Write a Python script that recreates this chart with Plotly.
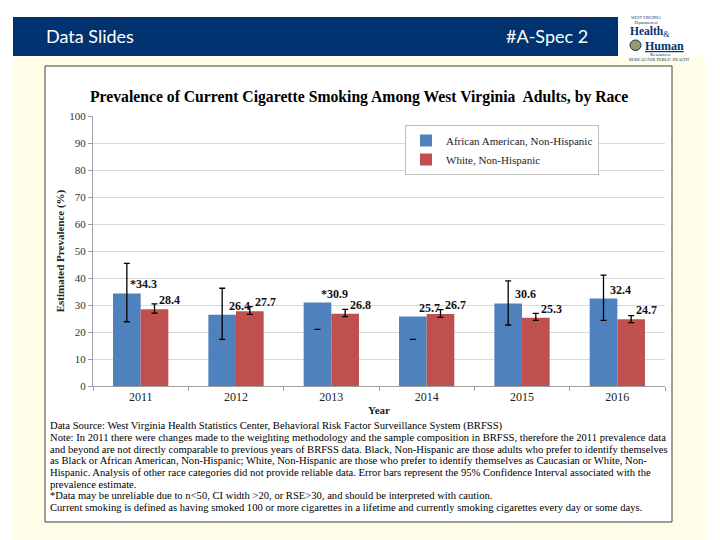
import plotly.graph_objects as go

# ---------------- data ----------------
years = ["2011", "2012", "2013", "2014", "2015", "2016"]
african_american = [34.3, 26.4, 30.9, 25.7, 30.6, 32.4]
aa_unreliable = [True, False, True, False, False, False]
aa_ci_low = [23.8, 17.3, 21.0, 17.3, 22.6, 24.3]
aa_ci_high = [45.4, 36.2, None, None, 38.9, 41.1]

white = [28.4, 27.7, 26.8, 26.7, 25.3, 24.7]
white_ci_low = [27.0, 26.5, 25.7, 25.4, 24.3, 23.5]
white_ci_high = [30.4, 29.4, 28.4, 28.3, 26.9, 26.1]

y_ticks = list(range(0, 101, 10))

title_text = "Prevalence of Current Cigarette Smoking Among West Virginia  Adults, by Race"
series_names = ["African American, Non-Hispanic", "White, Non-Hispanic"]
notes = [
    "Data Source: West Virginia Health Statistics Center, Behavioral Risk Factor Surveillance System (BRFSS)",
    "Note: In 2011 there were changes made to the weighting methodology and the sample composition in BRFSS, therefore the 2011 prevalence data",
    "and beyond are not directly comparable to previous years of BRFSS data. Black, Non-Hispanic are those adults who prefer to identify themselves",
    "as Black or African American, Non-Hispanic; White, Non-Hispanic are those who prefer to identify themselves as Caucasian or White, Non-",
    "Hispanic. Analysis of other race categories did not provide reliable data. Error bars represent the 95% Confidence Interval associated with the",
    "prevalence estimate.",
    "*Data may be unreliable due to n<50, CI width >20, or RSE>30, and should be interpreted with caution.",
    "Current smoking is defined as having smoked 100 or more cigarettes in a lifetime and currently smoking cigarettes every day or some days.",
]

# ---------------- layout geometry ----------------
W, H = 720, 540
L, R, T, B = 93, 665, 116, 386


def px(x):
    return (x - L) / (R - L)


def py(y):
    return (B - y) / (B - T)


BLUE = "#4F81BD"
RED = "#C0504D"
NAVY = "#00336f"
SERIF = "Liberation Serif"

fig = go.Figure()

fig.add_trace(go.Bar(
    x=years, y=african_american, name=series_names[0], offsetgroup="aa",
    marker=dict(color=BLUE, line=dict(width=0)), hoverinfo="x+y",
))
fig.add_trace(go.Bar(
    x=years, y=white, name=series_names[1], offsetgroup="w",
    marker=dict(color=RED, line=dict(width=0)),
    error_y=dict(type="data", symmetric=False,
                 array=[h - v for h, v in zip(white_ci_high, white)],
                 arrayminus=[v - l for v, l in zip(white, white_ci_low)],
                 color="black", thickness=1.3, width=3),
))
# error bars of the African American series (full intervals)
aa_full_y = [v if h is not None else None for v, h in zip(african_american, aa_ci_high)]
fig.add_trace(go.Bar(
    x=years, y=aa_full_y, offsetgroup="aa", showlegend=False, hoverinfo="skip",
    marker=dict(color="rgba(0,0,0,0)", line=dict(width=0)),
    error_y=dict(type="data", symmetric=False,
                 array=[(h - v) if h is not None else 0 for v, h in zip(african_american, aa_ci_high)],
                 arrayminus=[(v - l) if h is not None else 0 for v, l, h in zip(african_american, aa_ci_low, aa_ci_high)],
                 color="black", thickness=1.3, width=3),
))
# only the lower end is visible where the interval is incomplete
aa_dash_y = [l if h is None else None for l, h in zip(aa_ci_low, aa_ci_high)]
fig.add_trace(go.Bar(
    x=years, y=aa_dash_y, offsetgroup="aa", showlegend=False, hoverinfo="skip",
    marker=dict(color="rgba(0,0,0,0)", line=dict(width=0)),
    error_y=dict(type="data", array=[0] * len(years), color="black", thickness=1.3, width=3),
))

annotations = []
# data labels (x given as category index)
for i, (v, flag) in enumerate(zip(african_american, aa_unreliable)):
    annotations.append(dict(x=i, y=v, xref="x", yref="y", text="<b>" + ("*" if flag else "") + f"{v}</b>",
                            showarrow=False, xshift=3, yshift=9, yanchor="middle",
                            font=dict(family=SERIF, size=12, color="#111")))
for i, v in enumerate(white):
    annotations.append(dict(x=i, y=v, xref="x", yref="y", text=f"<b>{v}</b>",
                            showarrow=False, xshift=29, yshift=9, yanchor="middle",
                            font=dict(family=SERIF, size=12, color="#111")))

# title
annotations.append(dict(x=px(359), y=py(97), xref="paper", yref="paper", text=f"<b>{title_text}</b>",
                        showarrow=False, xanchor="center", yanchor="middle",
                        font=dict(family=SERIF, size=15.7, color="black")))
# notes
for i, line in enumerate(notes):
    annotations.append(dict(x=px(48), y=py(426 + i * 11.6), xref="paper", yref="paper", text=line,
                            showarrow=False, xanchor="left", yanchor="middle",
                            font=dict(family=SERIF, size=10.6, color="black")))

# header texts
annotations.append(dict(x=px(44), y=py(36), xref="paper", yref="paper", text="Data Slides",
                        showarrow=False, xanchor="left", yanchor="middle",
                        font=dict(family="Lato", size=18, color="white")))
annotations.append(dict(x=px(590), y=py(36), xref="paper", yref="paper", text="#A-Spec 2",
                        showarrow=False, xanchor="right", yanchor="middle",
                        font=dict(family="Lato", size=18, color="white")))
# logo texts
logo_items = [
    ("WEST VIRGINIA<br>Department of", 629, 20, 4),
    ("<b>Health</b><sub>&</sub>", 628, 32.5, 11.5),
    ("<b><u>Human</u></b>", 643, 46, 12),
    ("Resources", 648, 54.5, 5),
    ("BUREAU FOR PUBLIC HEALTH", 627, 59.5, 4.2),
]
for txt, x0, y0, sz in logo_items:
    annotations.append(dict(x=px(x0), y=py(y0), xref="paper", yref="paper", text=txt,
                            showarrow=False, xanchor="left", yanchor="middle",
                            font=dict(family=SERIF, size=sz, color=NAVY)))

shapes = [
    dict(type="rect", xref="paper", yref="paper", x0=px(13), x1=px(705), y0=py(56), y1=py(540),
         fillcolor="#fffde8", line=dict(width=0), layer="below"),
    dict(type="rect", xref="paper", yref="paper", x0=px(13), x1=px(618), y0=py(17), y1=py(56),
         fillcolor=NAVY, line=dict(width=0), layer="below"),
    dict(type="rect", xref="paper", yref="paper", x0=px(45), x1=px(672), y0=py(66), y1=py(522),
         fillcolor="white", line=dict(color="#404040", width=1), layer="below"),
    dict(type="circle", xref="paper", yref="paper", x0=px(630), x1=px(641), y0=py(40), y1=py(50.5),
         fillcolor="#9a9a62", line=dict(color=NAVY, width=1), layer="below"),
]

fig.update_layout(
    width=W, height=H,
    margin=dict(l=L, r=W - R, t=T, b=H - B, pad=0),
    paper_bgcolor="white", plot_bgcolor="white",
    barmode="group", bargap=0.42, bargroupgap=0,
    font=dict(family=SERIF, size=11, color="#333"),
    showlegend=True,
    legend=dict(x=px(405), y=py(125), xanchor="left", yanchor="top",
                bgcolor="white", bordercolor="#bfbfbf", borderwidth=1,
                font=dict(family=SERIF, size=11, color="#222"),
                itemwidth=30, tracegroupgap=0),
    xaxis=dict(type="category", categoryorder="array", categoryarray=years,
               range=[-0.5, len(years) - 0.5], autorange=False,
               showline=True, linecolor="#a0a0a0", linewidth=1,
               ticks="outside", ticklen=4, tickcolor="#a0a0a0", tickson="boundaries",
               showgrid=False, tickangle=0, tickfont=dict(family=SERIF, size=12, color="#222"),
               title=dict(text="<b>Year</b>", standoff=2, font=dict(family=SERIF, size=11, color="#222"))),
    yaxis=dict(range=[0, 100], tickvals=y_ticks, showline=True, linecolor="#a0a0a0", linewidth=1,
               ticks="outside", ticklen=4, tickcolor="#a0a0a0",
               gridcolor="#d9d9d9", gridwidth=1, zeroline=False,
               tickfont=dict(family=SERIF, size=11, color="#333"),
               title=dict(text="<b>Estimated Prevalence (%)</b>", standoff=2,
                          font=dict(family=SERIF, size=11, color="#222"))),
    annotations=annotations,
    shapes=shapes,
)

fig.write_html("out.html", config={"displayModeBar": False},
               post_script="document.body.style.margin='0';")
